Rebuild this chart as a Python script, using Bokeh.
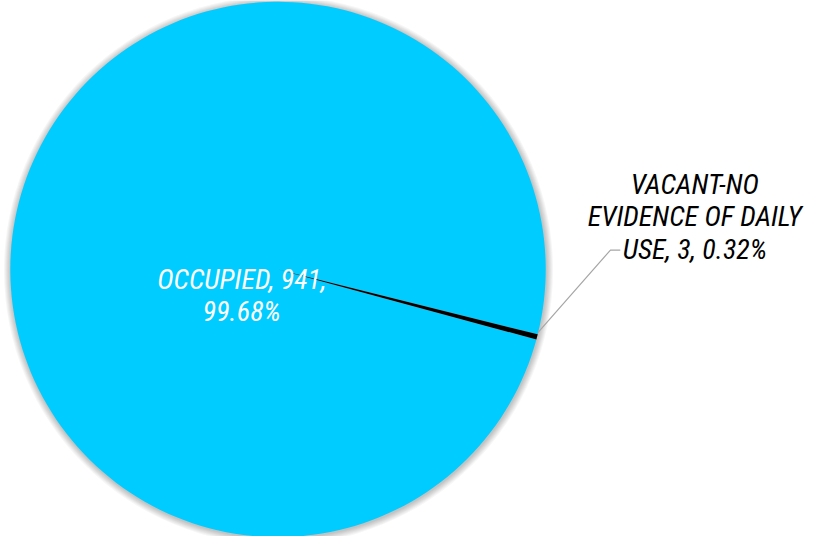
import math
from bokeh.plotting import figure
from bokeh.models import Range1d
from bokeh.core.properties import value
from bokeh.embed import file_html
from bokeh.resources import INLINE

categories = ["OCCUPIED", "VACANT-NO EVIDENCE OF DAILY USE"]
counts = [941, 3]
colors = ["#00CCFF", "#000000"]

W, H = 810, 536
p = figure(width=W, height=H, output_backend="svg", toolbar_location=None,
           x_range=Range1d(0, 826), y_range=Range1d(0, 552),
           min_border=0)
p.axis.visible = False
p.grid.visible = False
p.outline_line_color = None
p.background_fill_color = "white"

cx, cy, r = 283, 552 - 277, 273

# soft shadow
for i in range(7, 0, -1):
    p.circle(x=[cx + 0.5], y=[cy - 1], radius=r + i, fill_color="#000000",
             fill_alpha=0.035, line_color=None)

total = sum(counts)
fracs = [c / total for c in counts]
# rotation so the small slice sits at about -14.6 deg
vac_center = math.radians(-14.6)
vac_half = fracs[1] * math.pi
vac_start = vac_center - vac_half
vac_end = vac_center + vac_half
starts = [vac_end, vac_start]
ends = [vac_start + 2 * math.pi, vac_end]
p.wedge(x=[cx] * 2, y=[cy] * 2, radius=r, start_angle=starts, end_angle=ends,
        fill_color=colors, line_color=None)

font = value("Roboto Condensed, Liberation Sans Narrow, Roboto")
pct = [f"{f*100:.2f}%" for f in fracs]

# occupied label (white, inside)
occ_lines = [f"{categories[0]}, {counts[0]},", pct[0]]
p.text(x=[246, 246], y=[552 - 287, 552 - 320], text=occ_lines,
       text_font=font, text_font_style="italic", text_font_size="28px",
       text_color="white", text_align="center", text_baseline="alphabetic")

# vacant label (black, outside)
vac_lines = ["VACANT-NO", "EVIDENCE OF DAILY", f"USE, {counts[1]}, {pct[1]}"]
p.text(x=[708, 708, 708], y=[552 - 189, 552 - 222, 552 - 256], text=vac_lines,
       text_font=font, text_font_style="italic", text_font_size="28px",
       text_color="black", text_align="center", text_baseline="alphabetic")

# leader line
p.line(x=[548, 622, 632], y=[552 - 342, 552 - 257, 552 - 257],
       line_color="#A6A6A6", line_width=1.2)

open("out.html", "w").write(file_html(p, INLINE))
